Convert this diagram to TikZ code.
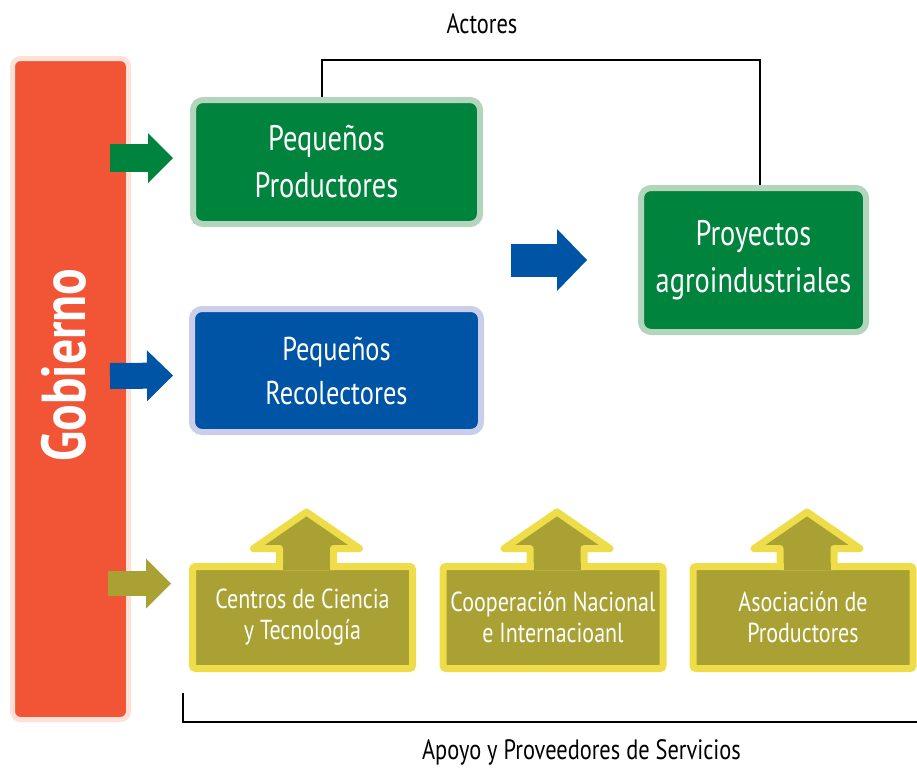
\documentclass[tikz,border=0pt]{standalone}
\usepackage{fontspec}
\setmainfont{PT Sans}[FakeStretch=0.8]
\usetikzlibrary{arrows.meta}
\definecolor{gobred}{HTML}{F15536}
\definecolor{gobglow}{HTML}{FDE0D6}
\definecolor{prodgreen}{HTML}{00843D}
\definecolor{prodrim}{HTML}{B3D5BC}
\definecolor{recblue}{HTML}{0054A6}
\definecolor{recrim}{HTML}{CACEEB}
\definecolor{apoolive}{HTML}{AAA135}
\definecolor{apoorim}{HTML}{EEDD48}
\begin{document}
\begin{tikzpicture}[x=1pt, y=-1pt,
      gob/.style={draw=gobglow, fill=gobred, line width=5, rounded corners=8, minimum width=116, minimum height=661, inner sep=0},
      gobtxt/.style={text=white, inner sep=0, font=\bfseries\fontsize{62}{62}\selectfont},
      actor/.style={line width=6, rounded corners=10, text=white, align=center, inner sep=0, font=\fontsize{35.5}{47}\selectfont},
      apoyo/.style={draw=apoorim, fill=apoolive, line width=7, rounded corners=3, text=white, align=center, inner sep=0, minimum width=220, minimum height=102, font=\fontsize{27.5}{31}\selectfont},
      caption/.style={inner sep=0, font=\fontsize{28}{31}\selectfont},
      blk/.style n args={3}{line width=#1pt, -{Triangle[width=#2pt,length=#3pt,line width=0pt]}}]
      \useasboundingbox (0,0) rectangle (917,769);
      \node at (70.5,389)[gob] (gob){};
      \node at (64,365)[gobtxt, rotate=90] (gobname){Gobierno};
      \node at (336.5,162)[actor, draw=prodrim, fill=prodgreen, minimum width=287, minimum height=124] (prod){Pequeños\hspace*{20pt}\\Productores\hspace*{20pt}};
      \node at (336.5,370.5)[actor, draw=recrim, fill=recblue, minimum width=289, minimum height=123, font=\fontsize{33}{44}\selectfont] (rec){Pequeños\\Recolectores};
      \node at (753.5,260)[actor, draw=prodrim, fill=prodgreen, minimum width=225, minimum height=144] (proy){Proyectos\\agroindustriales};
      \node at (302.5,617.5)[apoyo] (cen){Centros de Ciencia\\y Tecnología};
      \node at (553,617.5)[apoyo] (coop){Cooperación Nacional\\e Internacioanl};
      \node at (803,617.5)[apoyo] (asoc){Asociación de\\Productores};
      \foreach \b in {cen,coop,asoc} {
        \filldraw[shift={(\b.north)}, draw=apoorim, fill=apoolive, line width=7, line join=round]
          (-23,3.5) -- (-23,-14.5) -- (-49,-14.5) -- (4,-51) -- (57,-14.5) -- (31,-14.5) -- (31,3.5) -- cycle;
        \fill[shift={(\b.north)}, apoolive] (-19.5,0) rectangle (27.5,7);
      }
      \node at (482,23.5)[caption] (actores){Actores};
      \node at (581.5,752)[caption] (apoyo){Apoyo y Proveedores de Servicios};
      \coordinate (g1) at (110,158);
      \coordinate (g2) at (110,376);
      \coordinate (g3) at (108,583.5);
      \coordinate (m1) at (511,260);
      \coordinate (brend) at (917,722);
      \draw[blk={28}{50}{25}, prodgreen] (g1) -- ([xshift=-17,yshift=4]prod.west);
      \draw[blk={26}{51}{26}, recblue] (g2) -- ([xshift=-16,yshift=-5]rec.west);
      \draw[blk={25}{50}{25}, apoolive] (g3) -- ([xshift=-18,yshift=34]cen.west);
      \draw[blk={33}{62}{30}, recblue] (m1) -- ([xshift=-51]proy.west);
      \draw[line width=2] ([xshift=-14.5]prod.north) -- ++(0,-37.5) -| ([xshift=6.5]proy.north);
      \draw[line width=1.5] ([xshift=-6,yshift=-21]cen.south west) -- ++(0,29) -- (brend);
\end{tikzpicture}
\end{document}
